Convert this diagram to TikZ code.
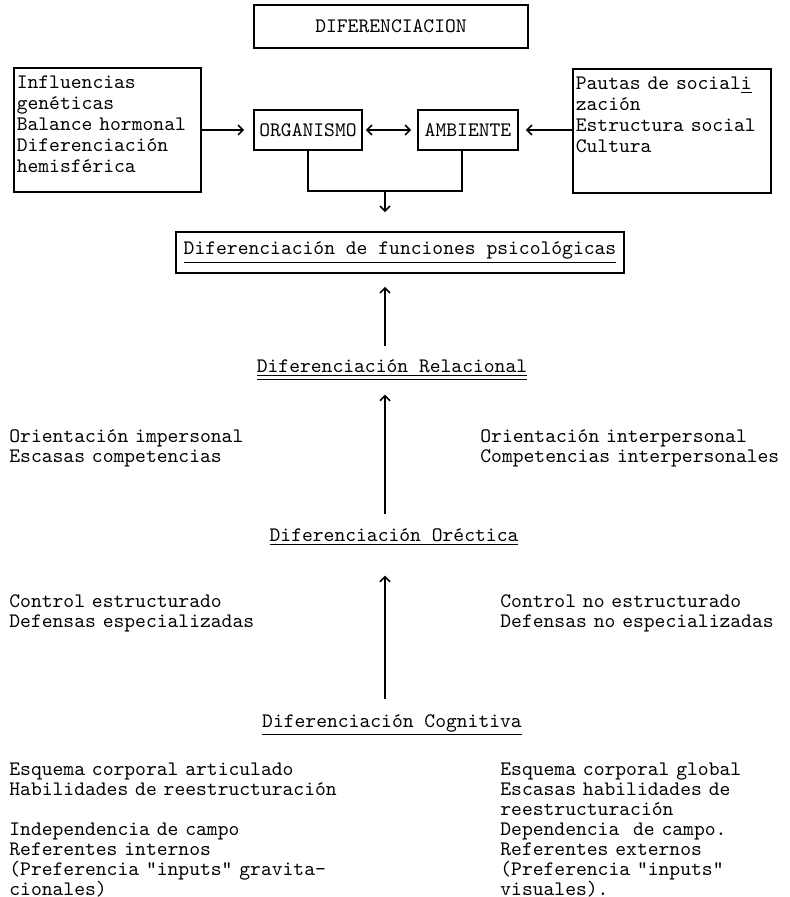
\documentclass[tikz,border=0pt]{standalone}
\usetikzlibrary{arrows.meta, positioning}

\begin{document}
\begin{tikzpicture}[
    x=0.5pt, y=-0.5pt,
    every node/.style={font=\ttfamily\fontsize{10.3}{10}\selectfont, inner sep=1.5pt},
    caja/.style={draw, line width=0.8pt, font=\ttfamily\fontsize{10.3}{10.5}\selectfont},
    cajalista/.style={caja, anchor=north west, align=left, text height=7pt,
        text depth=48pt, inner xsep=1.5pt, inner ysep=3.5pt},
    rotulo/.style={anchor=base},
    lista/.style={anchor=base west, align=left, text width=200pt},
    flecha/.style={line width=0.8pt, -{Straight Barb[length=2.5pt,width=5pt]}},
    doble/.style={line width=0.8pt,
        {Straight Barb[length=2.5pt,width=5pt]}-{Straight Barb[length=2.5pt,width=5pt]}}
]
\useasboundingbox (0,0) rectangle (789,897);

% parte superior
\node[caja, minimum width=137pt, minimum height=21.5pt] (dif) at (391,26.5) {DIFERENCIACION};
\node[cajalista, text width=90.5pt] (gen) at (13,67)
    {Influencias\\genéticas\\Balance hormonal\\Diferenciación\\hemisférica};
\node[cajalista, text width=96pt] (pau) at (572,68)
    {Pautas de social\underline{i}\\zación\\Estructura social\\Cultura};
\node[caja, minimum width=54pt, minimum height=20pt] (org) at (308,130) {ORGANISMO};
\node[caja, minimum width=50pt, minimum height=20pt] (amb) at (468,130) {AMBIENTE};
\node[caja, minimum width=224pt, minimum height=20.5pt] (fun) at (400,252.5)
    {\underline{Diferenciación de funciones psicológicas}};
\coordinate (cruce) at (385,191);

\draw[flecha, shorten >=4.5pt] (gen.east |- org.west) -- (org.west);
\draw[doble, shorten <=1.5pt, shorten >=3pt] (org) -- (amb);
\draw[flecha, shorten >=3.5pt] (pau.west |- amb.east) -- (amb.east);
\draw[line width=0.8pt] (org.south) |- (cruce) -| ([xshift=-3pt]amb.south);
\draw[flecha, shorten >=9.5pt] (cruce) -- (cruce |- fun.north);

% niveles
\node[rotulo] (rel) at (392,372) {\underline{\underline{Diferenciación Relacional}}};
\node[rotulo] (ore) at (394,541) {\underline{Diferenciación Oréctica}};
\node[rotulo] (cog) at (392,727) {\underline{Diferenciación Cognitiva}};

\draw[flecha, shorten <=4.8pt, shorten >=6.5pt] (rel.north -| cruce) -- (fun.south -| cruce);
\draw[flecha, shorten <=5.3pt, shorten >=5.5pt] (ore.north -| cruce) -- (rel.south -| cruce);
\draw[flecha, shorten <=6pt, shorten >=13.5pt] (cog.north -| cruce) -- (ore.south -| cruce);

% rasgos a cada lado
\node[lista] (impers) at (6,442) {Orientación impersonal\\Escasas competencias};
\node[lista] (inter) at (477,442) {Orientación interpersonal\\Competencias interpersonales};
\node[lista] (estr) at (6,607) {Control estructurado\\Defensas especializadas};
\node[lista] (noestr) at (497,607) {Control no estructurado\\Defensas no especializadas};
\node[lista] (indep) at (6,775) {Esquema corporal articulado\\Habilidades de reestructuración\\[10pt]
    Independencia de campo\\Referentes internos\\(Preferencia "inputs" gravita-\\cionales)};
\node[lista] (depen) at (497,775) {Esquema corporal global\\Escasas habilidades de\\reestructuración\\
    Dependencia\ \ de campo.\\Referentes externos\\(Preferencia "inputs"\\visuales).};
\end{tikzpicture}
\end{document}
